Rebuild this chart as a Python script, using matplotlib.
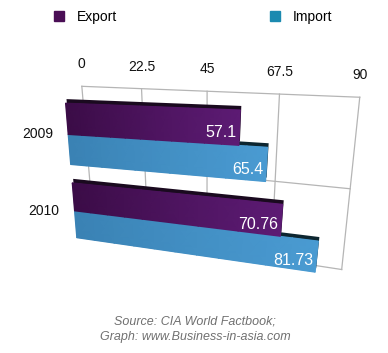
import numpy as np
import matplotlib
matplotlib.use('Agg')
import matplotlib.pyplot as plt
from matplotlib.transforms import Transform, Affine2D
from matplotlib.path import Path
from matplotlib.patches import Patch
from matplotlib.colors import LinearSegmentedColormap

# data
years = ['2009', '2010']
export = [57.1, 70.76]
imports = [65.4, 81.73]
series = ['Export', 'Import']
ticks = [0, 22.5, 45, 67.5, 90]

plt.rcParams['font.family'] = ['Liberation Sans', 'DejaVu Sans']


class Homography(Transform):
    """Projective map display -> display, used to fake the 3D tilt."""
    input_dims = 2
    output_dims = 2
    has_inverse = True

    def __init__(self, M):
        super().__init__()
        self.M = M

    def transform_non_affine(self, values):
        xy = np.asarray(values, dtype=float)
        flat = xy.ndim == 1
        xy = xy.reshape(-1, 2)
        p = np.column_stack([xy, np.ones(len(xy))]) @ self.M.T
        out = p[:, :2] / p[:, 2:]
        return out.reshape(-1) if flat else out

    def transform_path_non_affine(self, path):
        return Path(self.transform_non_affine(path.vertices), path.codes)

    def inverted(self):
        return Homography(np.linalg.inv(self.M))


W, H = 388, 353
fig = plt.figure(figsize=(W / 100, H / 100), dpi=100)
ax = fig.add_axes([0, 0, 1, 1])
ax.set_xlim(-10, 100)
ax.set_ylim(2, -1)
ax.set_autoscale_on(False)
ax.axis('off')


def fit(src_data, dst_px):
    # least-squares homography from point pairs (dst in image pixels, y down)
    src = ax.transData.transform(src_data) / 100.0
    dst = np.array([(u, H - v) for u, v in dst_px]) / 100.0
    rows = []
    for (x, y), (u, v) in zip(src, dst):
        rows.append([x, y, 1, 0, 0, 0, -u * x, -u * y, -u])
        rows.append([0, 0, 0, x, y, 1, -v * x, -v * y, -v])
    _, _, vt = np.linalg.svd(np.array(rows))
    S = np.diag([0.01, 0.01, 1.0])
    M = np.linalg.inv(S) @ vt[-1].reshape(3, 3) @ S
    return ax.transData + Homography(M)


y = np.arange(len(years))
h = 0.38
top, bottom = y[0] - 0.5, y[-1] + 0.5
mid = y[0] + 0.5

# back wall grid and front bar plane
Tg = fit([(0, top), (22.5, top), (45, top), (67.5, top), (90, top),
          (0, mid), (22.5, mid), (45, mid), (67.5, mid), (90, mid), (90, bottom)],
         [(82, 86), (142, 89), (207, 91), (279, 94), (360, 97),
          (88, 163), (145, 168), (207, 175), (275, 182), (350, 189), (342, 269)])
Tb = fit([(0, -h), (export[0], -h), (0, 1 + h), (imports[1], 1 + h),
          (imports[0], h), (export[1], 1 - h)],
         [(65, 103), (241, 112), (77, 238), (315, 273), (266, 177), (282, 206)])

gc = '#b5b5b5'
for t in ticks:
    ax.plot([t, t], [top, bottom], color=gc, lw=0.9, transform=Tg, clip_on=False, zorder=1)
    ax.text(t, top, f'{t:g}', transform=Tg + Affine2D().translate(0, 22),
            ha='center', va='center', fontsize=10, color='#111111')
for r in np.arange(top, bottom + 0.01, 1.0):
    ax.plot([0, 90], [r, r], color=gc, lw=0.9, transform=Tg, clip_on=False, zorder=1)

shift = Affine2D().translate(1, 4)
styles = [(imports, h / 2, '#3a82b4', '#4a9bd2', '#0d2630'),
          (export, -h / 2, '#3b0c47', '#5d1b74', '#1a0a1f')]
for vals, off, c0, c1, edge in styles:
    cmap = LinearSegmentedColormap.from_list('bar', [c0, c1])
    back = ax.barh(y + off, vals, height=h, color=edge, zorder=2)
    front = ax.barh(y + off, vals, height=h, color=c1, zorder=2)
    for p in back:
        p.set_transform(Tb + shift)
        p.set_clip_on(False)
    for p, yi, v in zip(front, y, vals):
        p.set_transform(Tb)
        p.set_clip_on(False)
        # horizontal shading across the front face
        gx = np.linspace(0, v, 12)
        gy = np.array([yi + off - h / 2, yi + off + h / 2])
        X, Y = np.meshgrid(gx, gy)
        mesh = ax.pcolormesh(X, Y, X / v, cmap=cmap, vmin=0, vmax=1,
                             shading='gouraud', zorder=2.5)
        mesh.set_transform(Tb)
        mesh.set_clip_on(False)
        ax.text(v, yi + off + 0.05, f'{v:g}', transform=Tb + Affine2D().translate(-3, 0),
                ha='right', va='center', color='white', fontsize=11.5, zorder=3)

for yi, lab in zip(y, years):
    ax.text(0, yi, lab, transform=Tb + Affine2D().translate(-15, 0),
            ha='right', va='center', fontsize=10, color='#111111')

handles = [Patch(color='#4a0e55'), Patch(color='#1b8ab0')]
fig.legend(handles, series, ncol=2, loc='center left', bbox_to_anchor=(54 / W, 1 - 17 / H),
           frameon=False, borderpad=0, borderaxespad=0, handlelength=0.75, handleheight=0.75,
           handletextpad=0.9, columnspacing=11, fontsize=10)

fig.text(195 / W, 1 - 329 / H, 'Source: CIA World Factbook;\nGraph: www.Business-in-asia.com',
         ha='center', va='center', style='italic', color='#707070', fontsize=9, linespacing=1.35)

fig.savefig('out.png', dpi=100)
